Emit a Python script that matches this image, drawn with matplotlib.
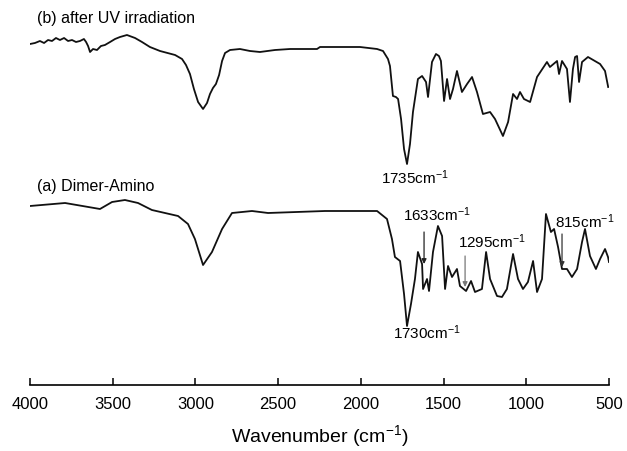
import matplotlib
matplotlib.use("Agg")
import matplotlib.pyplot as plt

plt.rcParams['font.family'] = ['Liberation Sans', 'DejaVu Sans']
plt.rcParams['mathtext.default'] = 'regular'

# (b) after UV irradiation: wavenumber (cm-1) and transmittance (a.u.)
wn_b = [4000, 3970, 3940, 3915, 3891, 3867, 3843, 3819, 3794, 3770, 3746, 3722,
        3698, 3674, 3661, 3649, 3637, 3619, 3595, 3571, 3547, 3516, 3486, 3456,
        3414, 3365, 3323, 3275, 3214, 3123, 3081, 3057, 3033, 3009, 2984, 2954,
        2930, 2912, 2894, 2876, 2857, 2839, 2821, 2791, 2731, 2670, 2610, 2519,
        2428, 2338, 2265, 2247, 2126, 2005, 1902, 1866, 1836, 1824, 1806, 1788,
        1775, 1757, 1739, 1721, 1703, 1685, 1655, 1630, 1606, 1594, 1570, 1546,
        1528, 1516, 1497, 1479, 1461, 1443, 1419, 1389, 1358, 1328, 1298, 1262,
        1219, 1189, 1141, 1110, 1080, 1056, 1038, 1014, 977, 935, 875, 857, 814,
        802, 784, 754, 736, 718, 705, 693, 681, 663, 627, 554, 524, 505]
tr_b = [341, 342, 344, 342, 345, 344, 347, 345, 347, 344, 345, 343,
        344, 346, 343, 339, 333, 336, 335, 339, 340, 343, 346, 348,
        350, 347, 343, 338, 334, 330, 326, 320, 311, 296, 283, 276,
        282, 291, 297, 301, 310, 324, 332, 335, 336, 334, 333, 335,
        336, 336, 336, 338, 338, 338, 336, 334, 326, 319, 289, 288,
        286, 266, 236, 221, 241, 273, 306, 309, 303, 288, 323, 331,
        329, 324, 284, 306, 286, 296, 314, 293, 301, 308, 293, 271,
        273, 266, 249, 263, 291, 286, 293, 286, 283, 308, 323, 318, 324,
        311, 324, 316, 283, 316, 328, 329, 303, 323, 328, 321, 314, 298]

# (a) Dimer-Amino
wn_a = [4000, 3788, 3577, 3504, 3426, 3347, 3263, 3184, 3105, 3045, 3003, 2954,
        2900, 2839, 2779, 2658, 2561, 2217, 1902, 1842, 1812, 1794, 1763, 1739,
        1721, 1697, 1673, 1655, 1630, 1624, 1600, 1588, 1564, 1534, 1509, 1491,
        1473, 1449, 1419, 1401, 1364, 1334, 1310, 1268, 1243, 1219, 1177, 1147,
        1117, 1080, 1050, 1020, 990, 959, 935, 905, 881, 851, 832, 808, 784,
        754, 724, 693, 663, 645, 615, 579, 554, 524, 506, 500]
tr_a = [179, 182, 176, 183, 185, 182, 175, 172, 169, 161, 146, 120,
        133, 156, 172, 174, 172, 174, 174, 166, 146, 128, 124, 91,
        59, 81, 106, 133, 121, 96, 106, 94, 133, 159, 149, 96,
        119, 108, 116, 99, 94, 104, 93, 96, 133, 106, 89, 88,
        96, 131, 106, 96, 103, 124, 93, 106, 171, 153, 156, 138, 116,
        116, 108, 116, 143, 156, 129, 116, 126, 136, 128, 123]

fig = plt.figure(figsize=(6.27, 4.52), dpi=100)
ax = fig.add_axes([30/627, 66/452, 579/627, 386/452])

ax.plot(wn_b, tr_b, color='#111111', lw=1.3)
ax.plot(wn_a, tr_a, color='#111111', lw=1.3)

ax.text(3958, 368, '(b) after UV irradiation', fontsize=11.5, va='center')
ax.text(3958, 199, '(a) Dimer-Amino', fontsize=11.5, va='center')
ax.text(1673, 208, '1735cm$^{-1}$', fontsize=11, ha='center', va='center')
ax.text(1600, 53, '1730cm$^{-1}$', fontsize=11, ha='center', va='center')
ax.text(1540, 171, '1633cm$^{-1}$', fontsize=11, ha='center', va='center')
ax.text(1207, 144, '1295cm$^{-1}$', fontsize=11, ha='center', va='center')
ax.text(645, 164, '815cm$^{-1}$', fontsize=11, ha='center', va='center')

arrows = [(1618, 153, 121, '#222222'), (1370, 129, 98, '#777777'), (784, 151, 118, '#333333')]
for x, y0, y1, c in arrows:
    ax.annotate('', xy=(x, y1), xytext=(x, y0),
                arrowprops=dict(arrowstyle='-|>', color=c, lw=0.9,
                                mutation_scale=7, shrinkA=0, shrinkB=0))

ax.set_xlim(4000, 500)
ax.set_ylim(0, 386)
ax.set_xticks([4000, 3500, 3000, 2500, 2000, 1500, 1000, 500])
ax.set_yticks([])
for s in ['left', 'right', 'top']:
    ax.spines[s].set_visible(False)
ax.spines['bottom'].set_linewidth(1.2)
ax.tick_params(axis='x', direction='in', length=5, width=1.1, labelsize=12, pad=8)
ax.set_xlabel('Wavenumber (cm$^{-1}$)', fontsize=14, labelpad=8)

fig.savefig('out.png', dpi=100)
